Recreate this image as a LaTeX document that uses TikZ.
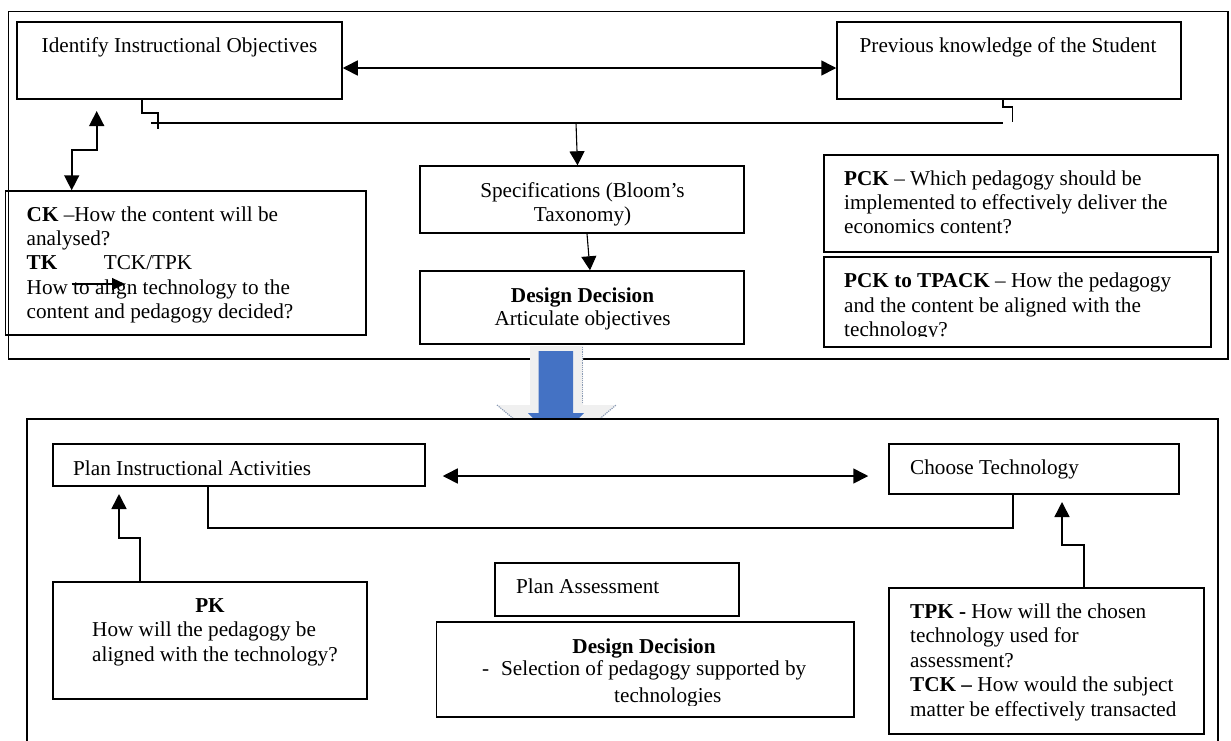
\documentclass[tikz,border=0pt]{standalone}
\usepackage{fontspec}
\setmainfont{Liberation Serif}
\usetikzlibrary{arrows.meta}
\definecolor{bigblue}{HTML}{4472C4}
\definecolor{biggray}{HTML}{F0F0F0}
\definecolor{dotblue}{HTML}{8A9BB5}
\newcommand\mkbox[6][]{\node[box,#1,minimum width={(#4-#2)*1pt},minimum height={(#5-#3)*1pt}] (#6) at ({(#2+#4)/2},{(#3+#5)/2}) {};}
\begin{document}
\begin{tikzpicture}[x=1pt,y=-1pt,
  box/.style={draw,line width=1.5pt,inner sep=0pt,rectangle},
  txt/.style={inner sep=0pt,anchor=base west,font=\fontsize{21.2}{24}\selectfont},
  ctxt/.style={txt,anchor=base},
  thinline/.style={line width=1.1pt},
  conn/.style={line width=1.6pt},
  arr/.style={conn,-{Triangle[length=15pt,width=15pt]}},
  arrr/.style={conn,{Triangle[length=15pt,width=15pt]}-{Triangle[length=15pt,width=15pt]}},
  smallarr/.style={line width=1.2pt,-{Triangle[length=13pt,width=12pt]}}]
\useasboundingbox (0,0) rectangle (1231,740);
\clip (0,0) rectangle (1231,740);

% ---------- top frame ----------
\mkbox{8.7}{11.7}{1228}{359}{frameA}
\mkbox{17}{22}{342}{99}{iden}
\mkbox{837}{22}{1181}{99}{prev}
\mkbox{420}{166}{744}{233}{spec}
\mkbox{420}{271}{744}{344}{ddA}
\mkbox{5.5}{191}{366}{335}{ck}
\mkbox{824}{155}{1218}{252}{pck}
\mkbox{824}{257}{1211}{347}{tpack}

\node[txt] (tiden) at (41.5,52) {Identify Instructional Objectives};
\node[txt] (tprev) at (859.5,52) {Previous knowledge of the Student};
\node[ctxt] (tspecA) at (582.5,197) {Specifications (Bloom’s};
\node[ctxt] (tspecB) at (582.5,221) {Taxonomy)};
\node[ctxt] (tddA) at (582.5,302) {\textbf{Design Decision}};
\node[ctxt] (tddB) at (582.5,325) {Articulate objectives};
\node[txt] (tckA) at (26.5,221) {\textbf{CK} –How the content will be};
\node[txt] (tckB) at (26.5,245) {analysed?};
\node[txt] (tckC) at (26.5,269) {\textbf{TK}};
\node[txt] (tckD) at (103.7,269) {TCK/TPK};
\node[txt] (tckE) at (26.5,294) {How to align technology to the};
\node[txt] (tckF) at (26.5,318) {content and pedagogy decided?};
\node[txt] (tpckA) at (844,185) {\textbf{PCK} – Which pedagogy should be};
\node[txt] (tpckB) at (844,209) {implemented to effectively deliver the};
\node[txt] (tpckC) at (844,233) {economics content?};
\begin{scope}
\clip (824,257) rectangle (1211,336.5);
\node[txt] (ttpA) at (844,287) {\textbf{PCK to TPACK} – How the pedagogy};
\node[txt] (ttpB) at (844,312) {and the content be aligned with the};
\node[txt] (ttpC) at (844,336) {technology?};
\end{scope}

% connectors top
\coordinate (a1) at (142,113);
\coordinate (a2) at (158,113);
\coordinate (a3) at (158,129);
\draw[thinline] (iden.south -| a1) -- (a1) -- (a2) -- (a3);
\coordinate (h1) at (151,123);
\coordinate (h2) at (1003,123);
\draw[thinline] (h1) -- (h2);
\coordinate (b1) at (1003,107);
\coordinate (b2) at (1012.7,107);
\coordinate (b3) at (1012.7,122);
\draw[thinline] (prev.south -| b1) -- (b1) -- (b2) -- (b3);
\coordinate (s0) at (576,123);
\coordinate (s1) at (577.5,0);
\draw[thinline,-{Triangle[length=14pt,width=15pt]}] (s0) -- (spec.north -| s1);
\coordinate (d0) at (587,0);
\coordinate (d1) at (590,0);
\draw[thinline,-{Triangle[length=14pt,width=15pt]}] (spec.south -| d0) -- (ddA.north -| d1);
\coordinate (m1) at (0,68);
\draw[arrr] (iden.east |- m1) -- (prev.west |- m1);
\coordinate (k1) at (71.7,150);
\coordinate (k2) at (96.7,150);
\coordinate (k3) at (96.7,111);
\draw[arrr] (ck.north -| k1) -- (k1) -- (k2) -- (k3);
\coordinate (e1) at (71.7,284);
\coordinate (e2) at (125,284);
\draw[smallarr] (e1) -- (e2);

% ---------- big arrow ----------
\fill[biggray] (530,346) -- (583,346) -- (583,405) -- (616,405) -- (557,455) -- (497,405) -- (530,405) -- cycle;
\draw[dotblue,densely dotted,line width=1.2pt] (582.5,347) -- (582.5,404);
\draw[dotblue,densely dotted,line width=1.2pt] (497,405) -- (557,455) -- (616,405);
\fill[bigblue] (538.5,351) -- (573,351) -- (573,413) -- (584,413) -- (556,441) -- (528,413) -- (538.5,413) -- cycle;

% ---------- bottom frame ----------
\mkbox[fill=white]{27}{419}{1218}{800}{frameB}
\mkbox{53}{444}{425}{486}{plan}
\mkbox{889}{444}{1179}{494}{choose}
\mkbox{53}{582}{367}{699}{pk}
\mkbox{495}{563}{739}{616}{pa}
\mkbox{436.5}{622}{854}{717}{ddB}
\mkbox{889}{588}{1204}{734}{tpk}

\node[txt] (tplan) at (73,475) {Plan Instructional Activities};
\node[txt] (tchoose) at (910,474) {Choose Technology};
\node[ctxt] (tpkA) at (210,612) {\textbf{PK}};
\node[txt] (tpkB) at (92,636) {How will the pedagogy be};
\node[txt] (tpkC) at (92,661) {aligned with the technology?};
\node[txt] (tpa) at (516,593) {Plan Assessment};
\node[ctxt] (tddC) at (644,653) {\textbf{Design Decision}};
\node[txt] (tddD) at (482,675) {-};
\node[txt] (tddE) at (501,675) {Selection of pedagogy supported by};
\begin{scope}
\clip (436.5,622) rectangle (854,705);
\node[txt] (tddF) at (614,702) {technologies};
\end{scope}
\node[txt] (ttpkA) at (910,618) {\textbf{TPK -} How will the chosen};
\node[txt] (ttpkB) at (910,642) {technology used for};
\node[txt] (ttpkC) at (910,667) {assessment?};
\node[txt] (ttpkD) at (910,691) {\textbf{TCK –} How would the subject};
\node[txt] (ttpkE) at (910,716) {matter be effectively transacted};

% connectors bottom
\coordinate (n1) at (0,476);
\draw[arrr,shorten <=17pt,shorten >=20pt] (plan.east |- n1) -- (choose.west |- n1);
\coordinate (p1) at (208,0);
\coordinate (p2) at (1013,528);
\draw[conn] (plan.south -| p1) |- (p2) -- (choose.south -| p2);
\coordinate (q1) at (140,538);
\coordinate (q2) at (119,538);
\coordinate (q3) at (119,494);
\draw[arr] (pk.north -| q1) -- (q1) -- (q2) -- (q3);
\coordinate (r1) at (1084,545);
\coordinate (r2) at (1062,545);
\coordinate (r3) at (1062,502);
\draw[arr] (tpk.north -| r1) -- (r1) -- (r2) -- (r3);
\end{tikzpicture}
\end{document}
